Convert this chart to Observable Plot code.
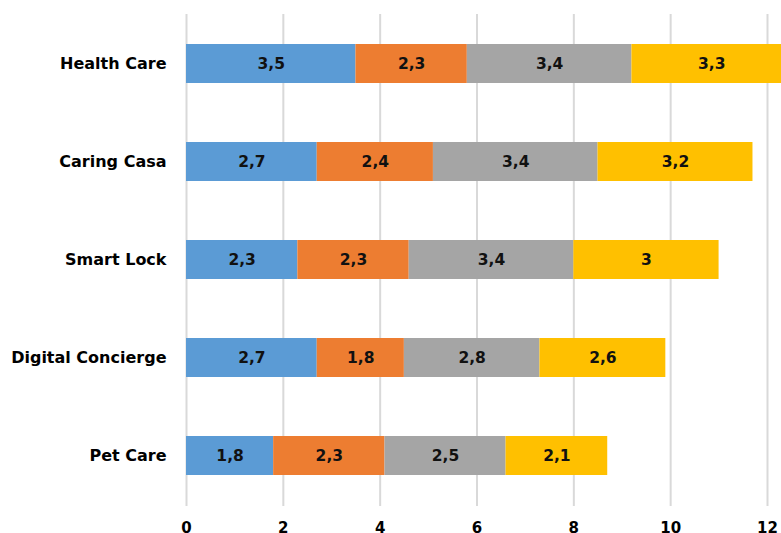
<!DOCTYPE html>
<html>
<head>
<meta charset="utf-8">
<script src="https://cdn.jsdelivr.net/npm/d3@7"></script>
<script src="https://cdn.jsdelivr.net/npm/@observablehq/plot@0.6"></script>
<style>
  html, body { margin: 0; padding: 0; background: #fff; overflow: hidden; }
</style>
</head>
<body>
<div id="chart"></div>
<script>
const categories = ["Health Care", "Caring Casa", "Smart Lock", "Digital Concierge", "Pet Care"];
const seriesNames = ["Serie 1", "Serie 2", "Serie 3", "Serie 4"];
const serie1 = [3.5, 2.7, 2.3, 2.7, 1.8];
const serie2 = [2.3, 2.4, 2.3, 1.8, 2.3];
const serie3 = [3.4, 3.4, 3.4, 2.8, 2.5];
const serie4 = [3.3, 3.2, 3.0, 2.6, 2.1];
const xTicks = [0, 2, 4, 6, 8, 10, 12];
const colors = ["#5B9BD5", "#ED7D31", "#A5A5A5", "#FFC000"];

const seriesValues = [serie1, serie2, serie3, serie4];
const data = [];
categories.forEach((c, i) => {
  seriesNames.forEach((s, j) => {
    data.push({category: c, series: s, value: seriesValues[j][i]});
  });
});

const fmt = v => String(v).replace(".", ",");

const chart = Plot.plot({
  width: 781,
  height: 533,
  marginLeft: 186,
  marginRight: 14,
  marginTop: 14,
  marginBottom: 27,
  style: {
    fontFamily: "'DejaVu Sans', sans-serif",
    fontWeight: "bold",
    fontSize: "15px",
    color: "#000",
    background: "#fff",
    overflow: "hidden"
  },
  x: {domain: [0, 12], ticks: xTicks},
  y: {domain: categories, paddingInner: 0.6, paddingOuter: 0.3, label: null},
  color: {domain: seriesNames, range: colors},
  marks: [
    Plot.gridX(xTicks, {stroke: "#D9D9D9", strokeOpacity: 1, strokeWidth: 2}),
    Plot.barX(data, Plot.stackX({x: "value", y: "category", fill: "series", order: seriesNames})),
    Plot.text(data, Plot.stackX({x: "value", y: "category", z: "series", order: seriesNames, text: d => fmt(d.value), fill: "#111", fontSize: 15.5, fontWeight: "bold"})),
    Plot.axisX({ticks: xTicks, tickSize: 0, tickPadding: 16, label: null, fontSize: 15, fontWeight: "bold"}),
    Plot.axisY({tickSize: 0, tickPadding: 20, label: null, fontSize: 16, fontWeight: "bold"})
  ]
});
document.getElementById("chart").appendChild(chart);
</script>
</body>
</html>
